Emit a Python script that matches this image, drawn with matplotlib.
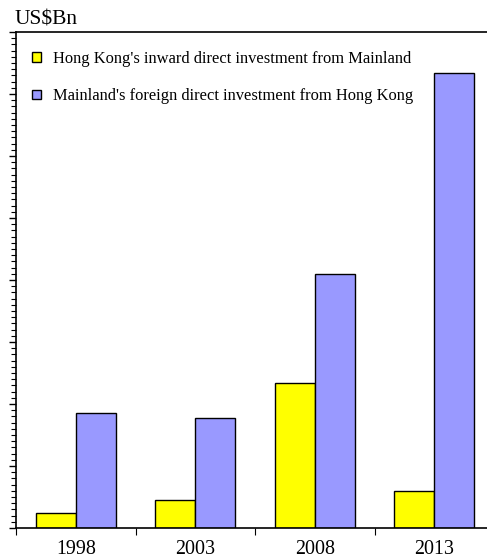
import matplotlib
matplotlib.use("Agg")
import matplotlib.pyplot as plt
from matplotlib.patches import Patch
from matplotlib.ticker import MultipleLocator, FixedLocator, NullFormatter
import numpy as np

years = ["1998", "2003", "2008", "2013"]
hk_inward = [2.5, 4.5, 23.4, 6.0]
mainland_fdi = [18.5, 17.7, 41.0, 73.4]
labels = ["Hong Kong's inward direct investment from Mainland",
          "Mainland's foreign direct investment from Hong Kong"]

plt.rcParams['font.family'] = ['Liberation Serif', 'DejaVu Serif']

fig = plt.figure(figsize=(4.87, 5.59), dpi=100)
# axes runs a bit past the right edge, as in the original
ax = fig.add_axes([16/487, 31/559, 478/487, 496/559])

x = np.arange(len(years))
w = 0.335
ax.bar(x - w/2, hk_inward, w, color='#ffff00', edgecolor='black', linewidth=1.0)
ax.bar(x + w/2, mainland_fdi, w, color='#9999ff', edgecolor='black', linewidth=1.0)

ax.set_xlim(-0.5, 3.5)
ax.set_ylim(0, 80)

# y axis: ticks only, no labels
ax.yaxis.set_major_locator(MultipleLocator(10))
ax.yaxis.set_minor_locator(MultipleLocator(1))
ax.yaxis.set_major_formatter(NullFormatter())
ax.tick_params(axis='y', which='major', direction='out', length=5, width=1.0)
ax.tick_params(axis='y', which='minor', direction='out', length=3.5, width=0.8)

# x axis: ticks on category edges, labels in the middle
ax.xaxis.set_major_locator(FixedLocator([-0.5, 0.5, 1.5, 2.5, 3.5]))
ax.xaxis.set_major_formatter(NullFormatter())
ax.xaxis.set_minor_locator(FixedLocator(x))
ax.set_xticklabels(years, minor=True)
ax.tick_params(axis='x', which='major', direction='out', length=5, width=0.8)
ax.tick_params(axis='x', which='minor', length=0, labelsize=14.4, pad=8.5)

ax.spines['right'].set_visible(False)
for s in ['left', 'top', 'bottom']:
    ax.spines[s].set_linewidth(1.2)

handles = [Patch(facecolor='#ffff00', edgecolor='black', linewidth=1.0),
           Patch(facecolor='#9999ff', edgecolor='black', linewidth=1.0)]
ax.legend(handles, labels, loc='upper left', frameon=False, fontsize=11.9,
          handlelength=0.5, handleheight=0.5, handletextpad=0.72,
          labelspacing=1.3, borderaxespad=0.3, bbox_to_anchor=(0.01, 0.985))

fig.text(15/487, 1 - 20/559, "US$Bn", fontsize=15.5, va='center', ha='left')

fig.savefig("out.png", dpi=100)
